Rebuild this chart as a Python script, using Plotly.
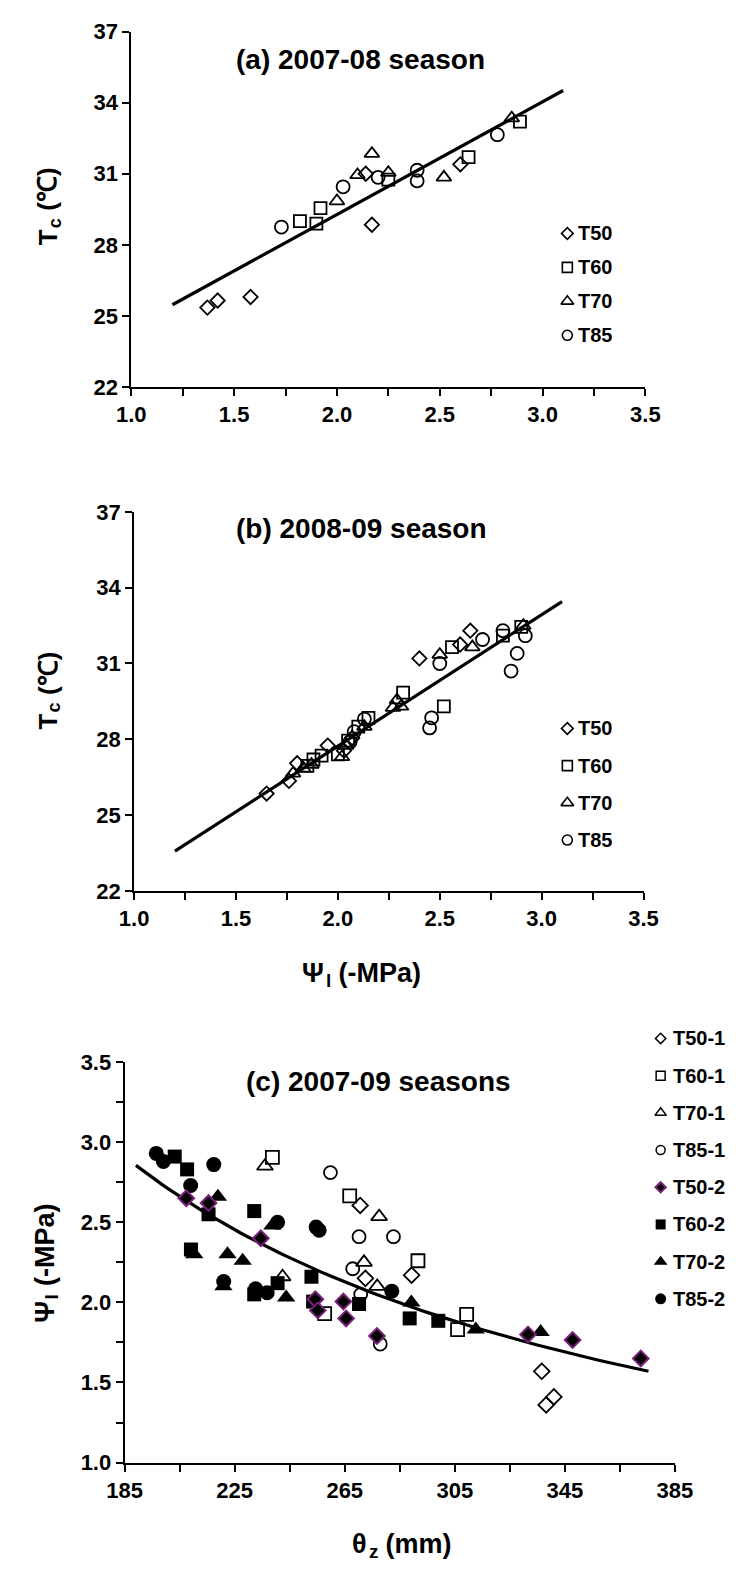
import numpy as np
import plotly.graph_objects as go

FONT = "Liberation Sans, Arial, sans-serif"
W, H = 751, 1575
PURPLE = "#7a1f7a"

# ---------------- (a) 2007-08 season : Tc vs leaf water potential ----------------
a_t50_psi = [1.37, 1.42, 1.58, 2.17, 2.14, 2.60]
a_t50_tc = [25.35, 25.65, 25.8, 28.85, 31.0, 31.4]
a_t60_psi = [1.82, 1.92, 1.90, 2.25, 2.64, 2.89]
a_t60_tc = [29.0, 29.55, 28.9, 30.75, 31.7, 33.2]
a_t70_psi = [2.00, 2.10, 2.17, 2.25, 2.52, 2.85]
a_t70_tc = [29.85, 30.95, 31.85, 31.05, 30.85, 33.35]
a_t85_psi = [1.73, 2.03, 2.20, 2.39, 2.39, 2.78]
a_t85_tc = [28.75, 30.45, 30.85, 31.15, 30.7, 32.65]
a_fit = (4.76, 19.76)          # Tc = slope * psi + intercept
a_fit_span = (1.2, 3.1)

# ---------------- (b) 2008-09 season ----------------
b_t50_psi = [1.65, 1.76, 1.80, 1.95, 2.03, 2.07, 2.40, 2.60, 2.65]
b_t50_tc = [25.85, 26.35, 27.05, 27.75, 27.55, 28.05, 31.2, 31.75, 32.3]
b_t60_psi = [1.85, 1.88, 1.92, 2.00, 2.05, 2.10, 2.15, 2.32, 2.52, 2.56, 2.81, 2.90]
b_t60_tc = [26.95, 27.2, 27.35, 27.4, 27.95, 28.5, 28.85, 29.85, 29.3, 31.65, 32.1, 32.45]
b_t70_psi = [1.78, 1.83, 1.87, 2.02, 2.04, 2.13, 2.27, 2.29, 2.31, 2.50, 2.66, 2.91]
b_t70_tc = [26.65, 26.85, 27.0, 27.3, 27.75, 28.5, 29.25, 29.55, 29.3, 31.35, 31.65, 32.5]
b_t85_psi = [2.06, 2.08, 2.13, 2.46, 2.45, 2.50, 2.71, 2.81, 2.92, 2.88, 2.85]
b_t85_tc = [27.9, 28.3, 28.8, 28.85, 28.45, 31.0, 31.95, 32.3, 32.1, 31.4, 30.7]
b_fit = (5.2, 17.33)
b_fit_span = (1.2, 3.1)

# ---------------- (c) 2007-09 seasons : leaf water potential vs soil water ----------------
c_t50_1_theta = [270.6, 272.5, 289.3, 336.6, 338.2, 341.0]
c_t50_1_psi = [2.605, 2.15, 2.17, 1.57, 1.36, 1.41]
c_t60_1_theta = [238.7, 266.8, 291.6, 257.7, 306.0, 309.3]
c_t60_1_psi = [2.905, 2.665, 2.26, 1.93, 1.83, 1.925]
c_t70_1_theta = [236.0, 277.5, 272.0, 276.8, 242.4]
c_t70_1_psi = [2.85, 2.535, 2.25, 2.10, 2.16]
c_t85_1_theta = [259.8, 270.2, 282.7, 267.9, 270.8, 277.9]
c_t85_1_psi = [2.81, 2.41, 2.41, 2.21, 2.05, 1.74]
c_t50_2_theta = [207.4, 215.5, 234.5, 254.3, 255.2, 264.5, 265.5, 276.7, 331.6, 347.8, 372.6]
c_t50_2_psi = [2.65, 2.62, 2.40, 2.02, 1.95, 2.005, 1.90, 1.79, 1.80, 1.765, 1.65]
c_t60_2_theta = [203.2, 207.7, 215.5, 232.1, 209.1, 240.6, 232.1, 252.9, 253.5, 270.2, 288.6, 299.0]
c_t60_2_psi = [2.91, 2.83, 2.55, 2.57, 2.33, 2.12, 2.05, 2.16, 2.005, 1.99, 1.90, 1.885]
c_t70_2_theta = [218.9, 210.3, 220.9, 222.4, 227.9, 238.7, 243.7, 289.2, 312.6, 336.2]
c_t70_2_psi = [2.66, 2.30, 2.10, 2.30, 2.26, 2.48, 2.03, 2.00, 1.83, 1.815]
c_t85_2_theta = [196.5, 199.1, 209.0, 217.4, 221.0, 232.6, 236.8, 240.6, 254.6, 255.7, 282.1]
c_t85_2_psi = [2.93, 2.88, 2.73, 2.86, 2.13, 2.085, 2.06, 2.50, 2.47, 2.45, 2.07]
c_fit = (276.0, -0.872)        # psi = a * theta ** b
c_fit_span = (189.1, 375.4)

# legend labels
legend_ab_names = ["T50", "T60", "T70", "T85"]
legend_c_names = ["T50-1", "T60-1", "T70-1", "T85-1", "T50-2", "T60-2", "T70-2", "T85-2"]

fig = go.Figure()


def scatter(x, y, xa, ya, symbol, size, fill="black", edge="black", lw=1.8):
    fig.add_trace(go.Scatter(
        x=x, y=y, mode="markers", xaxis=xa, yaxis=ya, showlegend=False, cliponaxis=False,
        hoverinfo="skip",
        marker=dict(symbol=symbol, size=size, color=fill, line=dict(color=edge, width=lw))))


def line_trace(x, y, xa, ya):
    fig.add_trace(go.Scatter(x=x, y=y, mode="lines", xaxis=xa, yaxis=ya, hoverinfo="skip",
                             showlegend=False, line=dict(color="black", width=3.2)))


# marker look per treatment
STY_AB = [("diamond-open", 11), ("square-open", 12), ("triangle-up-open", 13), ("circle-open", 13)]

# panel (a)
xs = np.array(a_fit_span)
line_trace(xs, a_fit[0] * xs + a_fit[1], "x", "y")
for (sym, sz), (px_, ty) in zip(STY_AB, [(a_t50_psi, a_t50_tc), (a_t60_psi, a_t60_tc),
                                         (a_t70_psi, a_t70_tc), (a_t85_psi, a_t85_tc)]):
    scatter(px_, ty, "x", "y", sym, sz)

# panel (b)
xs = np.array(b_fit_span)
line_trace(xs, b_fit[0] * xs + b_fit[1], "x2", "y2")
for (sym, sz), (px_, ty) in zip(STY_AB, [(b_t50_psi, b_t50_tc), (b_t60_psi, b_t60_tc),
                                         (b_t70_psi, b_t70_tc), (b_t85_psi, b_t85_tc)]):
    scatter(px_, ty, "x2", "y2", sym, sz)

# panel (c)
th = np.linspace(c_fit_span[0], c_fit_span[1], 80)
line_trace(th, c_fit[0] * th ** c_fit[1], "x3", "y3")
scatter(c_t50_1_theta, c_t50_1_psi, "x3", "y3", "diamond-open", 12)
scatter(c_t60_1_theta, c_t60_1_psi, "x3", "y3", "square-open", 13)
scatter(c_t70_1_theta, c_t70_1_psi, "x3", "y3", "triangle-up-open", 14)
scatter(c_t85_1_theta, c_t85_1_psi, "x3", "y3", "circle-open", 13)
scatter(c_t60_2_theta, c_t60_2_psi, "x3", "y3", "square", 14, lw=0)
scatter(c_t70_2_theta, c_t70_2_psi, "x3", "y3", "triangle-up", 16, lw=0)
scatter(c_t85_2_theta, c_t85_2_psi, "x3", "y3", "circle", 15, lw=0)
scatter(c_t50_2_theta, c_t50_2_psi, "x3", "y3", "diamond", 12, edge=PURPLE, lw=2)


def px_x(p):
    return p / W


def px_y(p):
    return 1 - p / H


def text_at(text, x, y, size, angle=0, xanchor="center", yanchor="middle"):
    fig.add_annotation(text=text, x=px_x(x), y=px_y(y), xref="paper", yref="paper",
                       showarrow=False, textangle=angle, xanchor=xanchor, yanchor=yanchor,
                       borderpad=0,
                       font=dict(family=FONT, size=size, color="black", weight="bold"))


# ---- key boxes: glyphs on a full-page pixel overlay, labels as annotations ----
def key(names, styles, mx, y0, dy, text_dx, font_size):
    for i, (name, (sym, sz, fill, edge, lw)) in enumerate(zip(names, styles)):
        y = y0 + i * dy
        scatter([mx], [y], "x4", "y4", sym, sz, fill=fill, edge=edge, lw=lw)
        text_at(name, mx + text_dx, y, font_size, xanchor="left")


KEY_AB = [("diamond-open", 9, "black", "black", 1.6), ("square-open", 10, "black", "black", 1.6),
          ("triangle-up-open", 11, "black", "black", 1.6), ("circle-open", 10, "black", "black", 1.6)]
KEY_C = [("diamond-open", 8, "black", "black", 1.5), ("square-open", 9, "black", "black", 1.5),
         ("triangle-up-open", 10, "black", "black", 1.5), ("circle-open", 9, "black", "black", 1.5),
         ("diamond", 8, "black", PURPLE, 2), ("square", 10, "black", "black", 0),
         ("triangle-up", 12, "black", "black", 0), ("circle", 11, "black", "black", 0)]
key(legend_ab_names, KEY_AB, 577, 225, 34.5, 10, 20)
key(legend_ab_names, KEY_AB, 577, 728, 37.8, 10, 20)
key(legend_c_names, KEY_C, 675, 1043, 37.8, 12, 20)


# ---- axis titles with a subscript: symbol, smaller subscript letter, then the unit ----
def sub_title(main, sub, rest, cx, cy, size, w_main, w_sub, w_rest, vertical=False):
    s2 = round(size * 0.7)
    wm, ws, wr = w_main * size, w_sub * s2, w_rest * size
    p = -(wm + ws + wr) / 2 + wm          # join point along the reading direction
    drop = 0.28 * size                    # subscript offset below the baseline
    if not vertical:
        text_at(main, cx + p, cy, size, xanchor="right")
        text_at(sub, cx + p, cy + drop, s2, xanchor="left")
        text_at(rest, cx + p + ws, cy, size, xanchor="left")
    else:
        text_at(main, cx, cy - p, size, angle=-90, yanchor="top")
        text_at(sub, cx + drop, cy - p, s2, angle=-90, yanchor="bottom")
        text_at(rest, cx, cy - p - ws, size, angle=-90, yanchor="bottom")


tick_font = dict(family=FONT, size=22, color="black", weight="bold")


def axis(domain, rng, tickvals, fmt, minor_dtick, minor_tick0, anchor):
    ax = dict(domain=domain, range=rng, anchor=anchor, tickmode="array", tickvals=tickvals,
              tickformat=fmt, ticks="outside", ticklen=7, tickwidth=2, tickcolor="black",
              showline=True, linecolor="black", linewidth=2, showgrid=False, zeroline=False,
              tickfont=tick_font, fixedrange=True)
    if minor_dtick:
        ax["minor"] = dict(ticks="outside", dtick=minor_dtick, tick0=minor_tick0,
                           ticklen=7, tickwidth=2, tickcolor="black", showgrid=False)
    return ax


psi_ticks = [1.0, 1.5, 2.0, 2.5, 3.0, 3.5]
tc_ticks = [22, 25, 28, 31, 34, 37]
theta_ticks = [185, 225, 265, 305, 345, 385]

fig.update_layout(
    width=W, height=H, autosize=False, margin=dict(l=0, r=0, t=0, b=0),
    paper_bgcolor="white", plot_bgcolor="rgba(0,0,0,0)", showlegend=False,
    font=dict(family=FONT, color="black"),
    xaxis=axis([px_x(119), px_x(659)], [1, 3.5], psi_ticks, ".1f", 0.25, 1, "y"),
    yaxis=axis([px_y(381), px_y(20)], [22, 37], tc_ticks, "d", None, None, "x"),
    xaxis2=axis([px_x(122), px_x(657)], [1, 3.5], psi_ticks, ".1f", 0.25, 1, "y2"),
    yaxis2=axis([px_y(893), px_y(508)], [22, 37], tc_ticks, "d", None, None, "x2"),
    xaxis3=axis([px_x(112), px_x(690)], [185, 385], theta_ticks, "d", 20, 185, "y3"),
    yaxis3=axis([px_y(1474), px_y(1067)], [1, 3.5], psi_ticks, ".1f", 0.25, 1, "x3"),
    xaxis4=dict(domain=[0, 1], range=[0, W], visible=False, fixedrange=True, anchor="y4"),
    yaxis4=dict(domain=[0, 1], range=[H, 0], visible=False, fixedrange=True, anchor="x4"),
)

# panel titles
text_at("(a) 2007-08 season", 228, 48, 28, xanchor="left")
text_at("(b) 2008-09 season", 228, 525, 28, xanchor="left")
text_at("(c) 2007-09 seasons", 238, 1087, 28, xanchor="left")

# axis titles
sub_title("T", "c", " (℃)", 31, 198, 26, 0.611, 0.556, 1.94, vertical=True)
sub_title("T", "c", " (℃)", 31, 690, 26, 0.611, 0.556, 1.94, vertical=True)
sub_title("Ψ", "l", " (-MPa)", 359, 977, 27, 0.80, 0.278, 3.333)
sub_title("Ψ", "l", " (-MPa)", 28, 1272, 27, 0.80, 0.278, 3.333, vertical=True)
sub_title("θ", "z", " (mm)", 401, 1557, 27, 0.611, 0.5, 2.722)

fig.write_html("out.html", config={"displayModeBar": False, "staticPlot": True})
